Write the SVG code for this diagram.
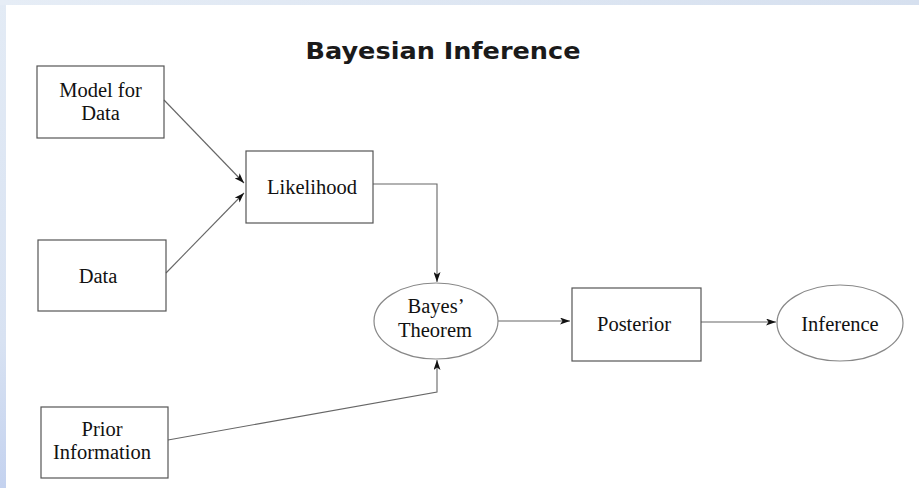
<svg xmlns="http://www.w3.org/2000/svg" width="919" height="488" viewBox="0 0 919 488">
<defs>
<linearGradient id="bg" x1="0" y1="0" x2="0" y2="1">
<stop offset="0" stop-color="#e3ebf5"/>
<stop offset="0.7" stop-color="#d8e2f2"/>
<stop offset="1" stop-color="#c4d2ef"/>
</linearGradient>
<linearGradient id="top" x1="0" y1="0" x2="1" y2="0">
<stop offset="0" stop-color="#e6edf6"/>
<stop offset="1" stop-color="#d6e0ef"/>
</linearGradient>
<marker id="ah" viewBox="0 0 10 7" refX="10" refY="3.5" markerWidth="10" markerHeight="7" markerUnits="userSpaceOnUse" orient="auto">
<path d="M0,0 L10,3.5 L0,7 L2.5,3.5 z" fill="#111"/>
</marker>
</defs>
<style>
.box{fill:none;stroke:#555;stroke-width:1.2}
.ell{fill:none;stroke:#888;stroke-width:1.2}
.lbl{font-family:"Liberation Serif","Times New Roman",serif;font-size:20.5px;fill:#111;text-anchor:middle}
.ttl{font-family:"DejaVu Sans",sans-serif;font-weight:bold;font-size:23px;fill:#1a1a1a;text-anchor:middle}
.con{fill:none;stroke:#666;stroke-width:1.1;marker-end:url(#ah)}
</style>
<rect x="0" y="0" width="919" height="488" fill="url(#bg)"/>
<rect x="0" y="0" width="919" height="5" fill="url(#top)"/>
<rect x="6" y="5" width="913" height="483" fill="#ffffff"/>
<text class="ttl" x="443" y="59" textLength="275" lengthAdjust="spacingAndGlyphs">Bayesian Inference</text>
<g id="connectors">
<path class="con" d="M164,100 L244,183"/>
<path class="con" d="M166,273 L244,193"/>
<path class="con" d="M373,184 L437,184 L437,282"/>
<path class="con" d="M498,321 L570,321"/>
<path class="con" d="M701,322 L776,322"/>
<path class="con" d="M168,440 L437,392 L437,360"/>
</g>
<g id="model">
<rect class="box" x="37" y="66" width="127" height="72"/>
<text class="lbl" x="100.5" y="97">Model for</text>
<text class="lbl" x="100.5" y="120">Data</text>
</g>
<g id="likelihood">
<rect class="box" x="246" y="151" width="127" height="72"/>
<text class="lbl" x="312" y="194">Likelihood</text>
</g>
<g id="data">
<rect class="box" x="38" y="240" width="128" height="71"/>
<text class="lbl" x="98" y="283">Data</text>
</g>
<g id="prior">
<rect class="box" x="41" y="407" width="127" height="71"/>
<text class="lbl" x="102" y="436">Prior</text>
<text class="lbl" x="102" y="459">Information</text>
</g>
<g id="bayes">
<ellipse class="ell" cx="436" cy="321" rx="62" ry="38"/>
<text class="lbl" x="436" y="313">Bayes’</text>
<text class="lbl" x="435" y="337">Theorem</text>
</g>
<g id="posterior">
<rect class="box" x="572" y="288" width="129" height="73"/>
<text class="lbl" x="634" y="331">Posterior</text>
</g>
<g id="inference">
<ellipse class="ell" cx="840" cy="323" rx="63" ry="38"/>
<text class="lbl" x="840" y="331">Inference</text>
</g>
</svg>
